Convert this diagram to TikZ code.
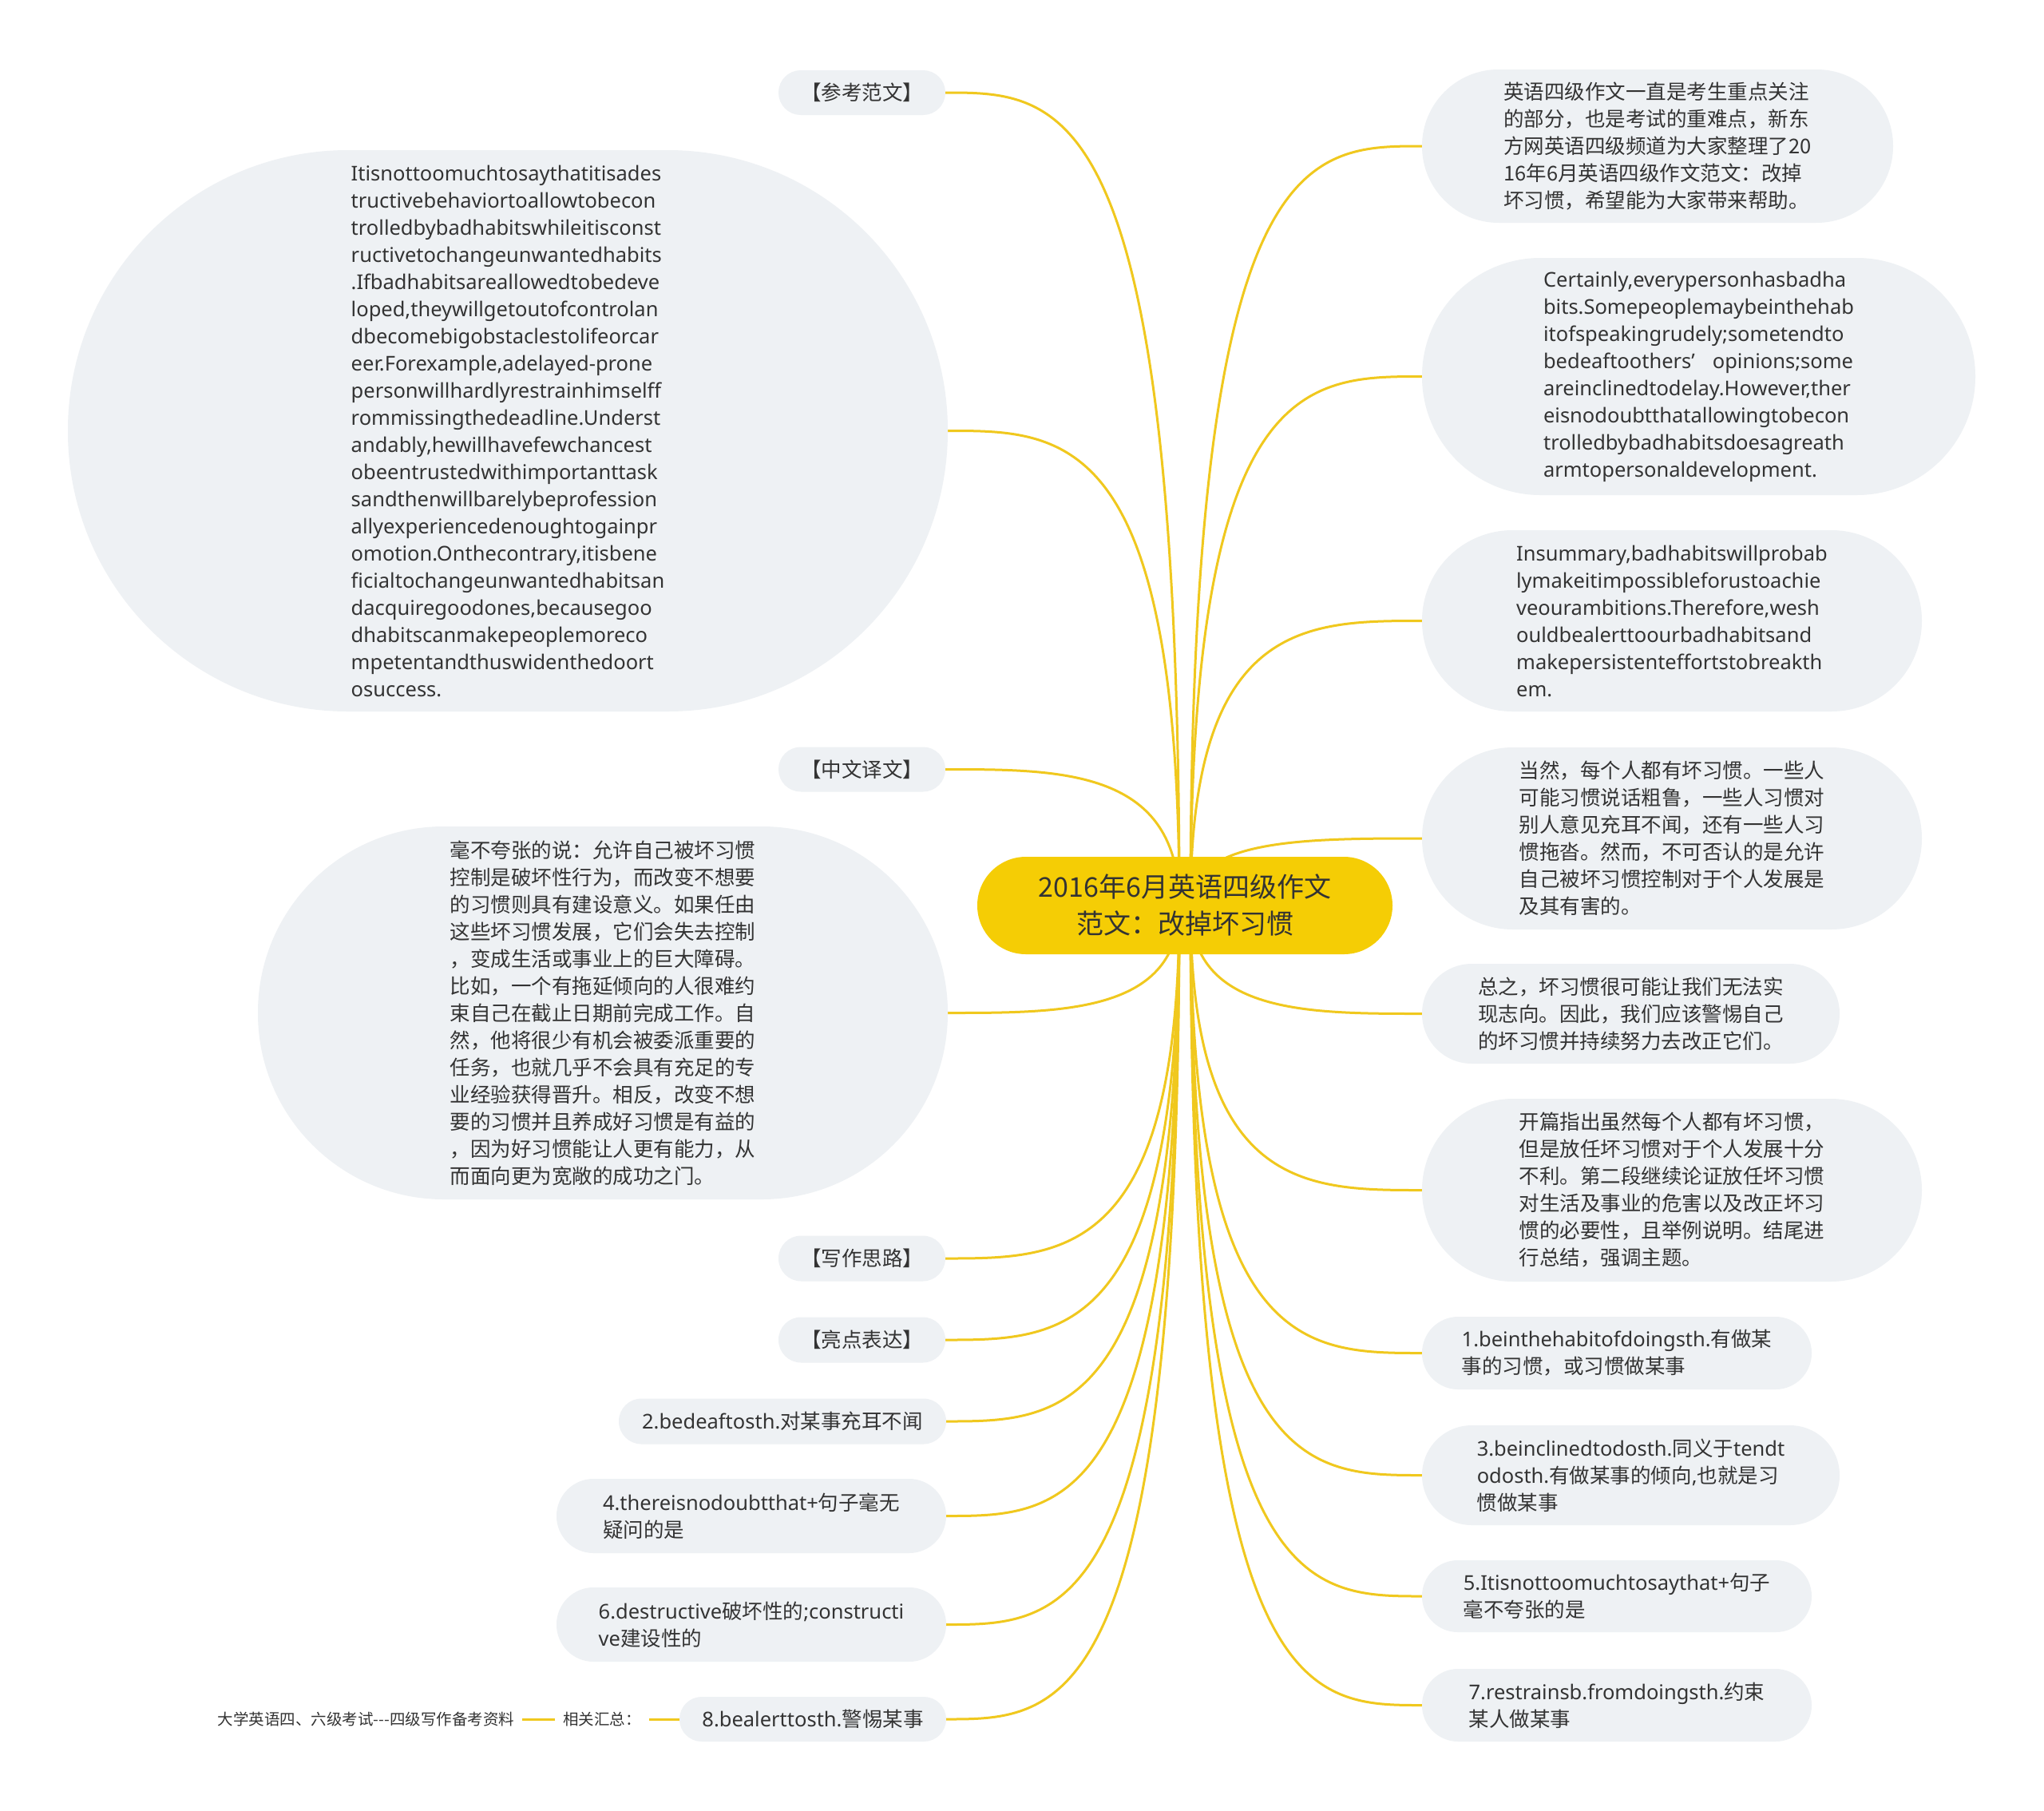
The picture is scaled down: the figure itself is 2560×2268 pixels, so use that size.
\documentclass[tikz,border=0pt]{standalone}
\usepackage{fontspec}
\setmainfont{Noto Sans CJK SC}
\newfontfamily\lat{Noto Sans}
\usetikzlibrary{backgrounds,calc}
\definecolor{nodegray}{HTML}{EEF1F4}
\definecolor{rooty}{HTML}{F5CD05}
\definecolor{liney}{HTML}{F0C81E}
\definecolor{txt}{HTML}{333333}
\tikzset{
  leaf/.style={fill=nodegray, text=txt, align=left, inner sep=0pt, font=\fontsize{25.5}{34}\selectfont},
  latleaf/.style={leaf, font=\lat\fontsize{25.5}{34}\selectfont},
  conn/.style={draw=liney, line width=3pt},
  plaintext/.style={text=txt, inner sep=0pt, outer xsep=10pt, font=\fontsize{19.5}{24}\selectfont},
}
\newcommand\mmlink[2]{\draw[conn] (#1) .. controls (#1 |- #2) and ($(#1 |- #2)!0.5!(#2)$) .. (#2);}
\begin{document}
\begin{tikzpicture}[x=1pt,y=-1pt]
\useasboundingbox (0,0) rectangle (2560,2268);
% root
\node[fill=rooty, text=txt, align=center, inner sep=0pt, minimum width=520pt, minimum height=122pt, rounded corners=60.9pt, font=\fontsize{34}{46}\selectfont] (root) at (1484,1134) {2016年6月英语四级作文\\范文：改掉坏习惯};
\coordinate (rootL) at (1477,1134);
\coordinate (rootR) at (1491,1134);
% left side
\node[leaf, minimum width=209pt, minimum height=56pt, rounded corners=27.9pt] (L1) at (1079.5,116) {【参考范文】};
\node[latleaf, minimum width=1102pt, minimum height=703pt, rounded corners=351pt] (L2) at (636,539.5) {Itisnottoomuchtosaythatitisades\\%
tructivebehaviortoallowtobecon\\%
trolledbybadhabitswhileitisconst\\%
ructivetochangeunwantedhabits\\%
.Ifbadhabitsareallowedtobedeve\\%
loped,theywillgetoutofcontrolan\\%
dbecomebigobstaclestolifeorcar\\%
eer.Forexample,adelayed-prone\\%
personwillhardlyrestrainhimselff\\%
rommissingthedeadline.Underst\\%
andably,hewillhavefewchancest\\%
obeentrustedwithimportanttask\\%
sandthenwillbarelybeprofession\\%
allyexperiencedenoughtogainpr\\%
omotion.Onthecontrary,itisbene\\%
ficialtochangeunwantedhabitsan\\%
dacquiregoodones,becausegoo\\%
dhabitscanmakepeoplemoreco\\%
mpetentandthuswidenthedoort\\%
osuccess.};
\node[leaf, minimum width=209pt, minimum height=56pt, rounded corners=27.9pt] (L3) at (1079.5,963.5) {【中文译文】};
\node[leaf, minimum width=864pt, minimum height=467pt, rounded corners=233pt] (L4) at (755,1268.5) {毫不夸张的说：允许自己被坏习惯\\%
控制是破坏性行为，而改变不想要\\%
的习惯则具有建设意义。如果任由\\%
这些坏习惯发展，它们会失去控制\\%
，变成生活或事业上的巨大障碍。\\%
比如，一个有拖延倾向的人很难约\\%
束自己在截止日期前完成工作。自\\%
然，他将很少有机会被委派重要的\\%
任务，也就几乎不会具有充足的专\\%
业经验获得晋升。相反，改变不想\\%
要的习惯并且养成好习惯是有益的\\%
，因为好习惯能让人更有能力，从\\%
而面向更为宽敞的成功之门。};
\node[leaf, minimum width=209pt, minimum height=57pt, rounded corners=28.4pt] (L5) at (1079.5,1576) {【写作思路】};
\node[leaf, minimum width=209pt, minimum height=57pt, rounded corners=28.4pt] (L6) at (1079.5,1678) {【亮点表达】};
\node[leaf, minimum width=410pt, minimum height=57pt, rounded corners=28.4pt] (L7) at (980,1780) {{\lat 2.bedeaftosth.}对某事充耳不闻};
\node[leaf, minimum width=488pt, minimum height=93pt, rounded corners=46.4pt] (L8) at (941,1898.5) {{\lat 4.thereisnodoubtthat+}句子毫无\\%
疑问的是};
\node[leaf, minimum width=488pt, minimum height=93pt, rounded corners=46.4pt] (L9) at (941,2034.5) {{\lat 6.destructive}破坏性的{\lat ;constructi}\\%
{\lat ve}建设性的};
\node[leaf, minimum width=334pt, minimum height=56pt, rounded corners=27.9pt] (L10) at (1018,2153) {{\lat 8.bealerttosth.}警惕某事};
\node[plaintext] (sum) at (754,2153) {相关汇总：};
\node[plaintext] (src) at (458.5,2153) {大学英语四、六级考试\mbox{-}\mbox{-}\mbox{-}四级写作备考资料};
% right side
\node[leaf, minimum width=590pt, minimum height=192pt, rounded corners=95.9pt] (R1) at (2076,183) {英语四级作文一直是考生重点关注\\%
的部分，也是考试的重难点，新东\\%
方网英语四级频道为大家整理了20\\%
16年6月英语四级作文范文：改掉\\%
坏习惯，希望能为大家带来帮助。};
\node[latleaf, minimum width=693pt, minimum height=297pt, rounded corners=148.4pt] (R2) at (2127.5,471.5) {Certainly,everypersonhasbadha\\%
bits.Somepeoplemaybeinthehab\\%
itofspeakingrudely;sometendto\\%
bedeaftoothers’\hspace{22pt}opinions;some\\%
areinclinedtodelay.However,ther\\%
eisnodoubtthatallowingtobecon\\%
trolledbybadhabitsdoesagreath\\%
armtopersonaldevelopment.};
\node[latleaf, minimum width=626pt, minimum height=227pt, rounded corners=113.4pt] (R3) at (2094,777.5) {Insummary,badhabitswillprobab\\%
lymakeitimpossibleforustoachie\\%
veourambitions.Therefore,wesh\\%
ouldbealerttoourbadhabitsand\\%
makepersistenteffortstobreakth\\%
em.};
\node[leaf, minimum width=626pt, minimum height=228pt, rounded corners=113.9pt] (R4) at (2094,1050) {当然，每个人都有坏习惯。一些人\\%
可能习惯说话粗鲁，一些人习惯对\\%
别人意见充耳不闻，还有一些人习\\%
惯拖沓。然而，不可否认的是允许\\%
自己被坏习惯控制对于个人发展是\\%
及其有害的。};
\node[leaf, minimum width=523pt, minimum height=125pt, rounded corners=62.4pt] (R5) at (2042.5,1269.5) {总之，坏习惯很可能让我们无法实\\%
现志向。因此，我们应该警惕自己\\%
的坏习惯并持续努力去改正它们。};
\node[leaf, minimum width=626pt, minimum height=229pt, rounded corners=114.4pt] (R6) at (2094,1490.5) {开篇指出虽然每个人都有坏习惯，\\%
但是放任坏习惯对于个人发展十分\\%
不利。第二段继续论证放任坏习惯\\%
对生活及事业的危害以及改正坏习\\%
惯的必要性，且举例说明。结尾进\\%
行总结，强调主题。};
\node[leaf, minimum width=488pt, minimum height=91pt, rounded corners=45.4pt] (R7) at (2025,1694.5) {{\lat 1.beinthehabitofdoingsth.}有做某\\%
事的习惯，或习惯做某事};
\node[leaf, minimum width=523pt, minimum height=125pt, rounded corners=62.4pt] (R8) at (2042.5,1847.5) {{\lat 3.beinclinedtodosth.}同义于{\lat tendt}\\%
{\lat odosth.}有做某事的倾向{\lat ,}也就是习\\%
惯做某事};
\node[leaf, minimum width=488pt, minimum height=90pt, rounded corners=44.9pt] (R9) at (2025,1999) {{\lat 5.Itisnottoomuchtosaythat+}句子\\%
毫不夸张的是};
\node[leaf, minimum width=488pt, minimum height=91pt, rounded corners=45.4pt] (R10) at (2025,2135.5) {{\lat 7.restrainsb.fromdoingsth.}约束\\%
某人做某事};
% connectors
\begin{scope}[on background layer]
\fill[white] (0,0) rectangle (2560,2268);
\mmlink{rootL}{L1.east}
\mmlink{rootL}{L2.east}
\mmlink{rootL}{L3.east}
\mmlink{rootL}{L4.east}
\mmlink{rootL}{L5.east}
\mmlink{rootL}{L6.east}
\mmlink{rootL}{L7.east}
\mmlink{rootL}{L8.east}
\mmlink{rootL}{L9.east}
\mmlink{rootL}{L10.east}
\mmlink{rootR}{R1.west}
\mmlink{rootR}{R2.west}
\mmlink{rootR}{R3.west}
\mmlink{rootR}{R4.west}
\mmlink{rootR}{R5.west}
\mmlink{rootR}{R6.west}
\mmlink{rootR}{R7.west}
\mmlink{rootR}{R8.west}
\mmlink{rootR}{R9.west}
\mmlink{rootR}{R10.west}
\draw[conn] (L10.west) -- (sum.east);
\draw[conn] (sum.west) -- (src.east);
\end{scope}
\end{tikzpicture}
\end{document}
